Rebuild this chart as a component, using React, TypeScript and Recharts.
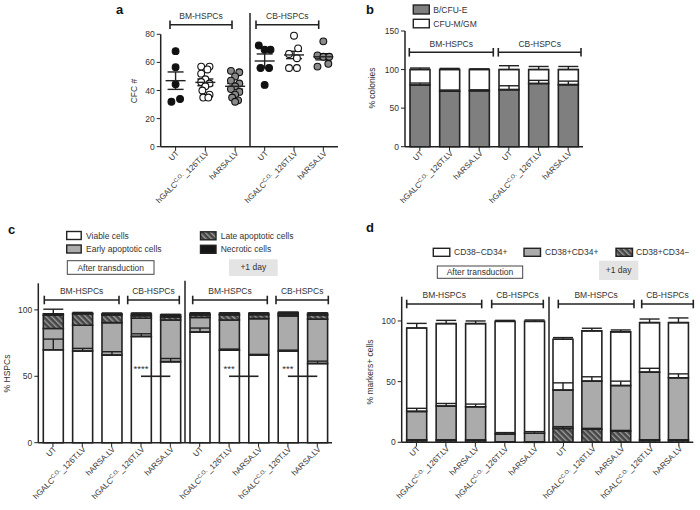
import React from 'react';
import { BarChart, Bar, XAxis, YAxis, ErrorBar, ScatterChart, Scatter, ReferenceLine, ReferenceDot } from 'recharts';

const W = 700;
const H = 510;
const XH = 40;
const FONT = '"Liberation Sans", Arial, Helvetica, sans-serif';
const TXT = '#333333';
const INK = '#222222';

// ---------- category labels ----------
const LBL_UT = 'UT';
const LBL_GALC = 'hGALC|C.O.|_126T.LV';
const LBL_ARSA = 'hARSA.LV';

// ---------- panel a (CFC #) ----------
const aCats = [LBL_UT, LBL_GALC, LBL_ARSA];
const aBmUT = [68, 56.5, 44.5, 34, 32];
const aBmUTJit = [0, 0, 0, 0.15, -0.14];
const aBmGALC = [57, 57, 55, 52, 48, 46, 45, 43, 40, 37, 35, 35];
const aBmGALCJit = [-0.14, 0.14, 0.07, -0.14, 0, -0.14, 0.14, 0, -0.1, 0.14, -0.07, 0.1];
const aBmARSA = [54, 53, 50, 47, 45, 43, 41, 39, 37, 35, 33, 32];
const aBmARSAJit = [-0.14, 0.14, 0, -0.14, 0.14, 0, -0.14, 0.14, 0, -0.1, 0.1, 0];
const aCbUT = [72, 69, 69, 56, 56, 44];
const aCbUTJit = [-0.2, 0, 0.2, -0.14, 0.15, 0];
const aCbGALC = [79, 70, 66, 63, 56, 56];
const aCbGALCJit = [0, 0.14, -0.17, 0.1, -0.17, 0.1];
const aCbARSA = [75, 65, 64, 64, 59, 57];
const aCbARSAJit = [0, -0.2, 0, 0.2, 0.17, -0.2];
const aBmMean = [47, 45.8, 43];
const aBmSem = [6.2, 2.4, 2];
const aCbMean = [61, 65.3, 64];
const aCbSem = [5, 2.6, 2.2];
const aTicks = [0, 20, 40, 60, 80];

// ---------- panel b (% colonies) ----------
const bIds = ['bmUT', 'bmGALC', 'bmARSA', 'cbUT', 'cbGALC', 'cbARSA'];
const bBfuE = [80, 72, 72.5, 74, 82, 80.5];
const bBfuEErr = [2.5, 1.5, 1.3, 5, 4, 4.5];
const bCfuGM = [20, 28, 27.5, 26, 18, 19.5];
const bCfuGMErr = [2, 1.5, 1, 5, 4, 4];
const bTicks = [0, 50, 100, 150];

// ---------- panel c (% HSPCs) ----------
const cIds = ['bmUT', 'bmGALC', 'bmARSA', 'cbGALC', 'cbARSA'];
const cViableT0 = [70, 69, 66, 80, 61];
const cViableErrT0 = [8, 2, 2.5, 2, 2.4];
const cEarlyT0 = [16, 19.4, 24.4, 13.7, 31.4];
const cLateT0 = [10, 8.6, 5.8, 2, 2.3];
const cNecroT0 = [1, 0.5, 1, 1.5, 1.5];
const cTopErrT0 = [3.5, 0.6, 0.4, 0.5, 0.5];
const cViableT1 = [83.3, 69.7, 66, 69, 59.6];
const cViableErrT1 = [3, 0.8, 0.5, 0.7, 1.8];
const cEarlyT1 = [10.9, 22.7, 27.4, 26.5, 33.4];
const cLateT1 = [2, 3.8, 3, 1.5, 3.2];
const cNecroT1 = [1.3, 1.3, 1.1, 1, 1.3];
const cTopErrT1 = [0.3, 0.3, 0.3, 0.3, 0.3];
const cTicks = [0, 50, 100];

// ---------- panel d (% markers+ cells) ----------
const dIds = ['bmUT', 'bmGALC', 'bmARSA', 'cbGALC', 'cbARSA'];
const dNegT0 = [2, 2, 1.8, 0.5, 0.5];
const dDblT0 = [23.5, 27.9, 27.5, 6.3, 6.9];
const dDblErrT0 = [2.5, 2.1, 2.2, 1.2, 1.4];
const dPosT0 = [68.7, 67.9, 68.5, 92.9, 92.3];
const dPosErrT0 = [3.8, 2.7, 2.2, 0.8, 1.1];
const dNegT1 = [11.5, 10.7, 9.3, 2, 2];
const dNegErrT1 = [1.4, 0.8, 0.5, 0, 0];
const dDblT1 = [31.5, 39.7, 37.5, 55.8, 51.2];
const dDblErrT1 = [6, 3.6, 3.6, 3.2, 3.2];
const dPosT1 = [41.9, 41.4, 44.2, 40.8, 45.4];
const dPosErrT1 = [1.4, 2.2, 1.6, 3, 3.9];
const dTicks = [0, 50, 100];

const catLabels: Record<string, string> = {
  bmUT: LBL_UT, bmGALC: LBL_GALC, bmARSA: LBL_ARSA,
  cbUT: LBL_UT, cbGALC: LBL_GALC, cbARSA: LBL_ARSA,
};

// ---------- helpers ----------
const up = (e: number) => [0, e];

function LabelTick(props: any) {
  const { x, y, payload, labels } = props;
  const raw = labels ? labels[payload.value] : payload.value;
  const parts = String(raw ?? '').split('|');
  return (
    <g transform={`translate(${x + 2},${y - 1})`}>
      <text transform="rotate(-45)" textAnchor="end" fontSize={8} fill={TXT} fontFamily={FONT} dy="0.35em">
        {parts.length === 3 ? (
          <>
            <tspan>{parts[0]}</tspan>
            <tspan dy={-3} fontSize={5.5}>{parts[1]}</tspan>
            <tspan dy={3}>{parts[2]}</tspan>
          </>
        ) : parts[0]}
      </text>
    </g>
  );
}

const yTick = { fontSize: 8.5, fill: TXT, fontFamily: FONT };

function StackHalf(p: any) {
  const { data, segs, x0, x1, top, bottom, domain, ticks, showY, children } = p;
  const yW = showY ? 32 : 0;
  return (
    <div style={{ position: 'absolute', left: 0, top: 0 }}>
      <BarChart width={W} height={H} data={data} barSize={20}
        margin={{ left: x0 - yW, right: W - x1, top, bottom: H - bottom - XH }}>
        <XAxis dataKey="id" height={XH} interval={0} tickSize={4} tickLine={{ stroke: INK }}
          axisLine={{ stroke: INK, strokeWidth: 1.5 }} tick={<LabelTick labels={catLabels} />} />
        <XAxis xAxisId="e" dataKey="id" hide />
        <YAxis hide={!showY} width={yW} domain={domain} ticks={ticks} interval={0} tickSize={4} tickMargin={2}
          tick={yTick} tickLine={{ stroke: INK }} axisLine={{ stroke: INK, strokeWidth: 1.5 }} />
        {segs.map((s: any) => (
          <Bar key={s.key} dataKey={s.key} stackId="s" fill={s.fill} stroke={INK} strokeWidth={1.6} isAnimationActive={false} />
        ))}
        {segs.map((s: any) => (
          <Bar key={'e' + s.key} xAxisId="e" dataKey={s.key} stackId="e" fill="none" stroke="none" isAnimationActive={false}>
            {s.err ? <ErrorBar dataKey={s.err} direction="y" width={10} stroke={INK} strokeWidth={1.4} /> : null}
          </Bar>
        ))}
        {children}
      </BarChart>
    </div>
  );
}

const pts = (vals: number[], jit: number[], gi: number) => vals.map((v, i) => ({ x: gi + jit[i], y: v }));
const meanPts = (m: number[], s: number[]) => m.map((v, i) => ({ x: i, y: v, sem: s[i] }));

const Dot = (fill: string) => (p: any) => (
  <circle cx={p.cx} cy={p.cy} r={3.4} fill={fill} stroke="#111" strokeWidth={1.1} />
);
const MeanLine = (p: any) => (
  <line x1={p.cx - 10} x2={p.cx + 10} y1={p.cy} y2={p.cy} stroke={INK} strokeWidth={1.4} />
);

function ScatterHalf(p: any) {
  const { groups, mean, sem, x0, x1, top, bottom, showY } = p;
  const yW = showY ? 32 : 0;
  return (
    <div style={{ position: 'absolute', left: 0, top: 0 }}>
      <ScatterChart width={W} height={H} margin={{ left: x0 - yW, right: W - x1, top, bottom: H - bottom - XH }}>
        <XAxis type="number" dataKey="x" domain={[-0.5, 2.5]} ticks={[0, 1, 2]} interval={0} height={XH} tickSize={4}
          tickLine={{ stroke: INK }} axisLine={{ stroke: INK, strokeWidth: 1.5 }} tick={<LabelTick labels={aCats} />} />
        <YAxis type="number" dataKey="y" hide={!showY} width={yW} domain={[0, 80]} ticks={aTicks} interval={0} tickSize={4}
          tickMargin={2} tick={yTick} tickLine={{ stroke: INK }} axisLine={{ stroke: INK, strokeWidth: 1.5 }} />
        {groups.map((g: any, i: number) => (
          <Scatter key={i} data={g.data} shape={Dot(g.fill)} isAnimationActive={false} />
        ))}
        <Scatter data={meanPts(mean, sem)} shape={MeanLine} isAnimationActive={false}>
          <ErrorBar dataKey="sem" direction="y" width={8} stroke={INK} strokeWidth={1.4} />
        </Scatter>
      </ScatterChart>
    </div>
  );
}

function Bracket({ x1, x2, y, label, ty }: any) {
  return (
    <g>
      <line x1={x1} x2={x2} y1={y} y2={y} stroke={INK} strokeWidth={1.6} />
      <line x1={x1} x2={x1} y1={y - 4.3} y2={y + 4.3} stroke={INK} strokeWidth={1.6} />
      <line x1={x2} x2={x2} y1={y - 4.3} y2={y + 4.3} stroke={INK} strokeWidth={1.6} />
      <text x={(x1 + x2) / 2} y={ty} textAnchor="middle" fontSize={8.5} fill={TXT}>{label}</text>
    </g>
  );
}

function LegendItem({ x, y, w, h, fill, label, tx }: any) {
  return (
    <g>
      <rect x={x} y={y} width={w} height={h} fill={fill} stroke={INK} strokeWidth={1.4} />
      <text x={tx} y={y + h - 1} fontSize={8.5} fill={TXT}>{label}</text>
    </g>
  );
}

function Overlay() {
  return (
    <svg width={W} height={H} style={{ position: 'absolute', left: 0, top: 0 }} fontFamily={FONT}>
      {/* panel letters */}
      <text x={116} y={13.5} fontSize={13} fontWeight="bold" fill="#111">a</text>
      <text x={366} y={13.5} fontSize={13} fontWeight="bold" fill="#111">b</text>
      <text x={8} y={233.5} fontSize={13} fontWeight="bold" fill="#111">c</text>
      <text x={366} y={231.5} fontSize={13} fontWeight="bold" fill="#111">d</text>

      {/* panel a */}
      <line x1={250} x2={250} y1={13} y2={146.7} stroke={INK} strokeWidth={1.5} />
      <Bracket x1={170} x2={232} y={24.7} label="BM-HSPCs" ty={18.5} />
      <Bracket x1={256} x2={318.7} y={24.7} label="CB-HSPCs" ty={18.5} />
      <text transform="translate(137,91) rotate(-90)" textAnchor="middle" fontSize={8.5} fill={TXT}>CFC #</text>

      {/* panel b */}
      <LegendItem x={413.3} y={5} w={16} h={9} fill="#7f7f7f" label="B/CFU-E" tx={433.3} />
      <LegendItem x={413.3} y={19.3} w={16} h={8.5} fill="#ffffff" label="CFU-M/GM" tx={433.3} />
      <Bracket x1={409.3} x2={493.3} y={52.3} label="BM-HSPCs" ty={46.5} />
      <Bracket x1={498.3} x2={581} y={52.3} label="CB-HSPCs" ty={46.5} />
      <text transform="translate(375,88) rotate(-90)" textAnchor="middle" fontSize={8.5} fill={TXT}>% colonies</text>

      {/* panel c */}
      <LegendItem x={66.7} y={231.5} w={14.5} h={8} fill="#ffffff" label="Viable cells" tx={86} />
      <LegendItem x={66.7} y={245} w={14.5} h={8} fill="#ababab" label="Early apoptotic cells" tx={86} />
      <LegendItem x={200.5} y={231.8} w={15.5} h={8} fill="url(#hatch)" label="Late apoptotic cells" tx={220.7} />
      <LegendItem x={200.5} y={245.3} w={15.5} h={8} fill="#161616" label="Necrotic cells" tx={220.7} />
      <rect x={67.3} y={260.7} width={86.7} height={13.6} fill="#fff" stroke="#444" strokeWidth={1} />
      <text x={110.7} y={270.6} textAnchor="middle" fontSize={8.5} fill={TXT}>After transduction</text>
      <rect x={229} y={259.3} width={48.7} height={16.7} fill="#e4e4e4" />
      <text x={253.3} y={270.2} textAnchor="middle" fontSize={8.5} fill={TXT}>+1 day</text>
      <line x1={185} x2={185} y1={280.7} y2={442.7} stroke={INK} strokeWidth={1.5} />
      <Bracket x1={44.3} x2={119} y={300} label="BM-HSPCs" ty={293.5} />
      <Bracket x1={127.7} x2={179.3} y={300} label="CB-HSPCs" ty={293.5} />
      <Bracket x1={192.7} x2={267.3} y={300} label="BM-HSPCs" ty={293.5} />
      <Bracket x1={276} x2={328.3} y={300} label="CB-HSPCs" ty={293.5} />
      <text transform="translate(10,373.5) rotate(-90)" textAnchor="middle" fontSize={8.5} fill={TXT}>% HSPCs</text>

      {/* panel d */}
      <LegendItem x={433.3} y={248.3} w={16.5} h={8} fill="#ffffff" label="CD38−CD34+" tx={454} />
      <LegendItem x={524} y={248.3} w={16.5} h={8} fill="#ababab" label="CD38+CD34+" tx={545} />
      <LegendItem x={616} y={248.3} w={16.5} h={8} fill="url(#hatch)" label="CD38+CD34−" tx={636} />
      <rect x={437.3} y={266} width={85.4} height={12.3} fill="#fff" stroke="#444" strokeWidth={1} />
      <text x={480} y={275.3} textAnchor="middle" fontSize={8.5} fill={TXT}>After transduction</text>
      <rect x={599} y={260.7} width={39.3} height={19.3} fill="#e4e4e4" />
      <text x={618.7} y={273} textAnchor="middle" fontSize={8.5} fill={TXT}>+1 day</text>
      <line x1={549} x2={549} y1={296.7} y2={442.3} stroke={INK} strokeWidth={1.5} />
      <Bracket x1={406.7} x2={481.7} y={304} label="BM-HSPCs" ty={297.5} />
      <Bracket x1={491.7} x2={543.3} y={304} label="CB-HSPCs" ty={297.5} />
      <Bracket x1={558.3} x2={634} y={304} label="BM-HSPCs" ty={297.5} />
      <Bracket x1={641.7} x2={693.3} y={304} label="CB-HSPCs" ty={297.5} />
      <text transform="translate(373,372) rotate(-90)" textAnchor="middle" fontSize={8.5} fill={TXT}>% markers+ cells</text>
    </svg>
  );
}

function Defs() {
  return (
    <svg width={0} height={0} style={{ position: 'absolute', left: 0, top: 0 }}>
      <defs>
        <pattern id="hatch" patternUnits="userSpaceOnUse" width={4} height={4} patternTransform="rotate(-45)">
          <rect width={4} height={4} fill="#464646" />
          <rect width={1.4} height={4} fill="#9c9c9c" />
        </pattern>
      </defs>
    </svg>
  );
}

// ---------- build tables ----------
const bData = bIds.map((id, i) => ({ id, bfu: bBfuE[i], bfuErr: up(bBfuEErr[i]), gm: bCfuGM[i], gmErr: up(bCfuGMErr[i]) }));
const cRows = (v: number[], ve: number[], e: number[], l: number[], n: number[], te: number[]) =>
  cIds.map((id, i) => ({ id, viable: v[i], viableErr: up(ve[i]), early: e[i], late: l[i], necro: n[i], topErr: up(te[i]) }));
const cData0 = cRows(cViableT0, cViableErrT0, cEarlyT0, cLateT0, cNecroT0, cTopErrT0);
const cData1 = cRows(cViableT1, cViableErrT1, cEarlyT1, cLateT1, cNecroT1, cTopErrT1);
const dRows = (h: number[], he: number[] | null, g: number[], ge: number[], w: number[], we: number[]) =>
  dIds.map((id, i) => ({ id, neg: h[i], negErr: up(he ? he[i] : 0), dbl: g[i], dblErr: up(ge[i]), pos: w[i], posErr: up(we[i]) }));
const dData0 = dRows(dNegT0, null, dDblT0, dDblErrT0, dPosT0, dPosErrT0);
const dData1 = dRows(dNegT1, dNegErrT1, dDblT1, dDblErrT1, dPosT1, dPosErrT1);

const bSegs = [
  { key: 'bfu', fill: '#7f7f7f', err: 'bfuErr' },
  { key: 'gm', fill: '#ffffff', err: 'gmErr' },
];
const cSegs = [
  { key: 'viable', fill: '#ffffff', err: 'viableErr' },
  { key: 'early', fill: '#ababab' },
  { key: 'late', fill: 'url(#hatch)' },
  { key: 'necro', fill: '#161616', err: 'topErr' },
];
const dSegs = [
  { key: 'neg', fill: 'url(#hatch)', err: 'negErr' },
  { key: 'dbl', fill: '#ababab', err: 'dblErr' },
  { key: 'pos', fill: '#ffffff', err: 'posErr' },
];

const sig = (a: string, b: string, stars: string) => [
  <ReferenceLine key={'l' + a} segment={[{ x: a, y: 50 }, { x: b, y: 50 }]} stroke={INK} strokeWidth={1.6} />,
  <ReferenceDot key={'d' + a} x={a} y={56} r={0} fill="none" stroke="none"
    label={{ value: stars, position: 'center', fontSize: 9.5, fill: TXT, fontFamily: FONT }} />,
];

export default function App() {
  return (
    <div style={{ position: 'absolute', left: 0, top: 0, width: W, height: H, background: '#fff', fontFamily: FONT }}>
      <Defs />
      <ScatterHalf showY x0={160.7} x1={250} top={34.3} bottom={146.7} mean={aBmMean} sem={aBmSem}
        groups={[
          { data: pts(aBmUT, aBmUTJit, 0), fill: '#111' },
          { data: pts(aBmGALC, aBmGALCJit, 1), fill: '#fff' },
          { data: pts(aBmARSA, aBmARSAJit, 2), fill: '#8a8a8a' },
        ]} />
      <ScatterHalf x0={250} x1={338} top={34.3} bottom={146.7} mean={aCbMean} sem={aCbSem}
        groups={[
          { data: pts(aCbUT, aCbUTJit, 0), fill: '#111' },
          { data: pts(aCbGALC, aCbGALCJit, 1), fill: '#fff' },
          { data: pts(aCbARSA, aCbARSAJit, 2), fill: '#8a8a8a' },
        ]} />
      <StackHalf showY data={bData} segs={bSegs} x0={405} x1={583} top={31} bottom={146.7} domain={[0, 150]} ticks={bTicks} />
      <StackHalf showY data={cData0} segs={cSegs} x0={38.3} x1={185} top={283.3} bottom={442.7} domain={[0, 120]} ticks={cTicks}>
        {sig('cbGALC', 'cbARSA', '****')}
      </StackHalf>
      <StackHalf data={cData1} segs={cSegs} x0={185} x1={332} top={283.3} bottom={442.7} domain={[0, 120]} ticks={cTicks}>
        {sig('bmGALC', 'bmARSA', '***')}
        {sig('cbGALC', 'cbARSA', '***')}
      </StackHalf>
      <StackHalf showY data={dData0} segs={dSegs} x0={401.7} x1={549} top={296.7} bottom={442.3} domain={[0, 120]} ticks={dTicks} />
      <StackHalf data={dData1} segs={dSegs} x0={549} x1={693.3} top={296.7} bottom={442.3} domain={[0, 120]} ticks={dTicks} />
      <Overlay />
    </div>
  );
}
